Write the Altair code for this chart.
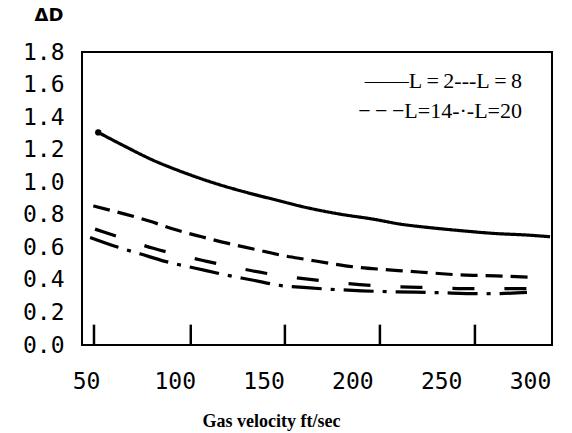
import altair as alt
import pandas as pd

# ---- data ----
x_l2 = [56.9, 72.0, 87.0, 105.7, 124.5, 139.5, 155.5, 174.3, 193.0, 211.8, 226.8, 242.7, 261.5, 280.3, 299.0, 311.3]
y_l2 = [1.306, 1.220, 1.139, 1.057, 0.987, 0.940, 0.895, 0.844, 0.804, 0.773, 0.743, 0.722, 0.702, 0.685, 0.675, 0.665]

x_l8 = [54.1, 72.0, 85.1, 101.1, 115.1, 130.1, 144.2, 161.1, 174.3, 189.2, 202.4, 217.4, 231.5, 246.5, 259.6, 272.8, 284.1, 299.0]
y_l8 = [0.854, 0.804, 0.763, 0.706, 0.665, 0.624, 0.590, 0.549, 0.525, 0.498, 0.478, 0.464, 0.453, 0.441, 0.431, 0.427, 0.423, 0.417]

x_l14 = [55.1, 61.7, 87.9, 118.0, 151.2, 182.3, 216.8, 246.5, 267.3, 292.7, 298.3]
y_l14 = [0.712, 0.688, 0.594, 0.514, 0.441, 0.395, 0.362, 0.352, 0.346, 0.346, 0.346]

x_l20 = [52.3, 68.2, 80.8, 94.5, 112.3, 128.3, 144.2, 159.2, 174.3, 205.2, 246.5, 276.4, 298.3]
y_l20 = [0.661, 0.600, 0.559, 0.514, 0.470, 0.431, 0.398, 0.366, 0.352, 0.333, 0.322, 0.315, 0.323]

series_names = ["L=2", "L=8", "L=14", "L=20"]
x_tick_labels = [50, 100, 150, 200, 250, 300]
y_tick_labels = [0.0, 0.2, 0.4, 0.6, 0.8, 1.0, 1.2, 1.4, 1.6, 1.8]
inner_tick_positions = [54.5, 109, 162, 215.5, 269]
legend_lines = ["——L\u2009=\u20092---L\u2009=\u20098", "−\u2009−\u2009−L=14-·-L=20"]
y_title = "ΔD"

rows = []
for name, xs, ys in zip(series_names, [x_l2, x_l8, x_l14, x_l20], [y_l2, y_l8, y_l14, y_l20]):
    for xv, yv in zip(xs, ys):
        rows.append({"series": name, "v": xv, "d": yv})
df = pd.DataFrame(rows)
start_df = pd.DataFrame({"v": [x_l2[0]], "d": [y_l2[0]]})
ticks_df = pd.DataFrame({"v": inner_tick_positions, "d": [0.0] * len(inner_tick_positions),
                         "d1": [0.125] * len(inner_tick_positions)})

XDOM = [47.75, 312.4]
YDOM = [0, 1.8]
LABEL_FONT = "DejaVu Sans Mono"
W, H = 470, 293

xs_scale = alt.Scale(domain=XDOM, nice=False, zero=False)
ys_scale = alt.Scale(domain=YDOM, nice=False)

x_axis = alt.Axis(
    values=x_tick_labels, title="Gas velocity ft/sec", grid=False, ticks=False,
    domain=False, labelFont=LABEL_FONT, labelFontSize=23, labelColor="black",
    labelPadding=25, labelFlush=False, labelOverlap=False,
    titleFont="Liberation Serif", titleFontWeight="bold",
    titleFontSize=18, titleColor="black", titleX=189, titleY=76,
    titleAnchor="start", titleAlign="center", titleBaseline="middle",
)
y_axis = alt.Axis(
    values=y_tick_labels, format=".1f", title=None, grid=False, ticks=False,
    domain=False, labelFont=LABEL_FONT, labelFontSize=23, labelColor="black",
    labelPadding=18, labelOverlap=False, labelFlush=False, labelBound=False,
)

def X():
    return alt.X("v:Q", scale=xs_scale, axis=x_axis)

def Y():
    return alt.Y("d:Q", scale=ys_scale, axis=y_axis)

lines = alt.Chart(df).mark_line(strokeWidth=3.2, color="black", interpolate="monotone", strokeCap="butt").encode(
    x=X(),
    y=Y(),
    strokeDash=alt.StrokeDash(
        "series:N",
        scale=alt.Scale(domain=series_names, range=[[1, 0], [17, 8], [22, 30], [30, 9, 4, 9]]),
        legend=None,
    ),
    detail="series:N",
)

start_dot = alt.Chart(start_df).mark_point(filled=True, color="black", size=40, opacity=1).encode(
    x=X(), y=Y(),
)

inner_ticks = alt.Chart(ticks_df).mark_rule(color="black", strokeWidth=2.5).encode(
    x=X(), y=Y(), y2="d1:Q",
)

legend_df = pd.DataFrame({"t": legend_lines})
legend1 = alt.Chart(legend_df.iloc[[0]]).mark_text(
    font="Liberation Serif", fontSize=22, align="right", baseline="middle", color="black"
).encode(text="t:N", x=alt.value(440), y=alt.value(29))
legend2 = alt.Chart(legend_df.iloc[[1]]).mark_text(
    font="Liberation Serif", fontSize=22, align="right", baseline="middle", color="black"
).encode(text="t:N", x=alt.value(440), y=alt.value(59))

ytitle = alt.Chart(pd.DataFrame({"t": [y_title]})).mark_text(
    font="DejaVu Sans", fontSize=18, fontWeight="bold", align="center", baseline="middle", color="black"
).encode(text="t:N", x=alt.value(-33), y=alt.value(-36))

chart = alt.layer(lines, start_dot, inner_ticks, legend1, legend2, ytitle).properties(
    width=W, height=H,
    background="white",
    autosize=alt.AutoSizeParams(type="none"),
    padding={"left": 74, "top": 44, "right": 12, "bottom": 88},
).configure_view(stroke="black", strokeWidth=2).configure_axis(labelOverlap=False)

chart.save("out.html", embed_options={"renderer": "svg", "actions": False})
